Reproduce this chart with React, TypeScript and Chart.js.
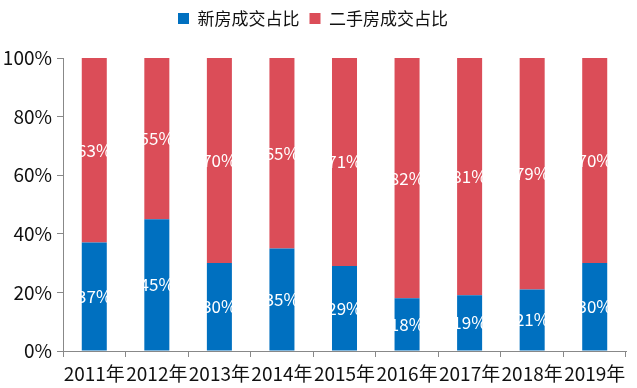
import React, { useEffect, useRef } from "react";
import { Chart, registerables } from "chart.js";

Chart.register(...registerables);

const categories = ["2011年", "2012年", "2013年", "2014年", "2015年", "2016年", "2017年", "2018年", "2019年"];
const newHomeShare = [37, 45, 30, 35, 29, 18, 19, 21, 30];
const resaleShare = [63, 55, 70, 65, 71, 82, 81, 79, 70];
const seriesNames = ["新房成交占比", "二手房成交占比"];
const yTicks = [0, 20, 40, 60, 80, 100];

const FONT = "'Noto Sans CJK SC', 'Noto Sans', sans-serif";

const legendHeight = {
  id: "legendHeight",
  beforeInit(chart: any) {
    const orig = chart.legend.fit;
    chart.legend.fit = function () {
      orig.call(this);
      this.height = 58;
    };
  },
};

const barLabels = {
  id: "barLabels",
  afterDatasetsDraw(chart: any) {
    const ctx = chart.ctx;
    ctx.save();
    ctx.fillStyle = "#ffffff";
    ctx.font = `17px ${FONT}`;
    ctx.textAlign = "center";
    ctx.textBaseline = "middle";
    chart.data.datasets.forEach((ds: any, di: number) => {
      const meta = chart.getDatasetMeta(di);
      meta.data.forEach((bar: any, i: number) => {
        const { x, y, base } = bar.getProps(["x", "y", "base"], true);
        ctx.fillText(ds.data[i] + "%", x, (y + base) / 2);
      });
    });
    ctx.restore();
  },
};

export default function App() {
  const ref = useRef<HTMLCanvasElement>(null);
  useEffect(() => {
    const chart = new Chart(ref.current!, {
      type: "bar",
      data: {
        labels: categories,
        datasets: [
          { label: seriesNames[0], data: newHomeShare, backgroundColor: "#0070C0" },
          { label: seriesNames[1], data: resaleShare, backgroundColor: "#DB4D58" },
        ],
      },
      options: {
        responsive: false,
        animation: false,
        layout: { padding: { left: 0, right: 11, top: 0, bottom: 0 } },
        datasets: { bar: { categoryPercentage: 1, barPercentage: 0.4 } },
        plugins: {
          tooltip: { enabled: false },
          legend: {
            position: "top",
            labels: {
              boxWidth: 11,
              boxHeight: 11,
              padding: 10,
              color: "#111",
              font: { family: FONT, size: 17 },
            },
          },
        },
        scales: {
          x: {
            stacked: true,
            offset: true,
            grid: {
              display: true,
              offset: true,
              drawOnChartArea: false,
              drawTicks: true,
              tickLength: 6,
              color: "#888",
            },
            border: { display: true, color: "#888" },
            ticks: { color: "#111", font: { family: FONT, size: 19 }, padding: 5, maxRotation: 0, autoSkip: false },
            afterFit(scale: any) {
              scale.height = 37;
            },
          },
          y: {
            stacked: true,
            min: 0,
            max: 100,
            afterBuildTicks(scale: any) {
              scale.ticks = yTicks.map((v) => ({ value: v }));
            },
            grid: {
              display: true,
              drawOnChartArea: false,
              drawTicks: true,
              tickLength: 6,
              color: "#888",
            },
            border: { display: true, color: "#888" },
            ticks: {
              color: "#111",
              font: { family: FONT, size: 19 },
              padding: 5,
              callback: (v: any) => v + "%",
            },
            afterFit(scale: any) {
              scale.width = 63;
            },
          },
        },
      },
      plugins: [legendHeight, barLabels],
    });
    return () => chart.destroy();
  }, []);
  return (
    <div style={{ position: "fixed", left: 0, top: 0, width: 637, height: 388, background: "#fff" }}>
      <canvas ref={ref} width={637} height={388} />
    </div>
  );
}
